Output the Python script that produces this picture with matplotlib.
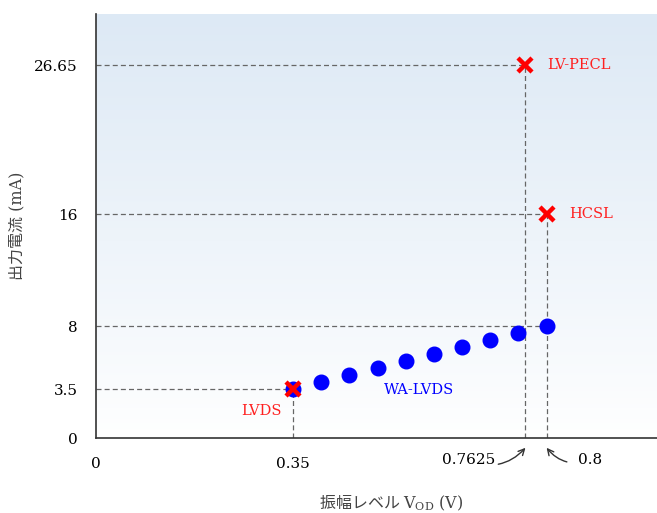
import matplotlib.pyplot as plt
import numpy as np

plt.rcParams['font.family'] = ['DejaVu Serif', 'Noto Sans CJK JP']
plt.rcParams['mathtext.fontset'] = 'dejavuserif'

# WA-LVDS の点列
wa_vod = [0.35, 0.40, 0.45, 0.50, 0.55, 0.60, 0.65, 0.70, 0.75, 0.80]
wa_cur = [3.5, 4.0, 4.5, 5.0, 5.5, 6.0, 6.5, 7.0, 7.5, 8.0]

# 他規格
std_names = ['LVDS', 'LV-PECL', 'HCSL']
std_vod = [0.35, 0.7625, 0.8]
std_cur = [3.5, 26.65, 16]

yticks = [0, 3.5, 8, 16, 26.65]
ytick_labels = ['0', '3.5', '8', '16', '26.65']

fig = plt.figure(figsize=(6.57, 5.13), dpi=100)
ax = fig.add_axes([96/657, 1-438/513, 1-96/657, (438-14)/513])
ax.set_xlim(0, 0.996)
ax.set_ylim(0, 30.3)

# 背景グラデーション
grad = np.linspace(0, 1, 256).reshape(-1, 1)
top = np.array([0.867, 0.914, 0.961])
bot = np.array([1.0, 1.0, 1.0])
img = bot + (top - bot) * grad[::-1] ** 0.9
img = np.repeat(img[:, None, :], 2, axis=1)
ax.imshow(img, extent=[0, 1, 0, 1], transform=ax.transAxes, aspect='auto', zorder=0)

dash = dict(color='#666666', lw=0.9, ls=(0, (4, 2.5)), zorder=1)
ax.plot([0, 0.7625], [26.65, 26.65], **dash)
ax.plot([0.7625, 0.7625], [0, 26.65], **dash)
ax.plot([0, 0.8], [16, 16], **dash)
ax.plot([0.8, 0.8], [0, 16], **dash)
ax.plot([0, 0.8], [8, 8], **dash)
ax.plot([0, 0.35], [3.5, 3.5], **dash)
ax.plot([0.35, 0.35], [0, 3.5], **dash)

ax.plot(wa_vod, wa_cur, 'o', color='#0000ff', ms=10.5, zorder=3, ls='none')
ax.plot(std_vod, std_cur, 'x', color='#ff0000', ms=10, mew=3.2, zorder=4, ls='none')

ax.text(0.7625 + 0.038, 26.65, 'LV-PECL', color='#ff2020', fontsize=10.5, va='center', ha='left')
ax.text(0.8 + 0.04, 16, 'HCSL', color='#ff2020', fontsize=10.5, va='center', ha='left')
ax.text(0.294, 1.9, 'LVDS', color='#ff2020', fontsize=10.5, va='center', ha='center')
ax.text(0.573, 3.45, 'WA-LVDS', color='#0000ff', fontsize=10.5, va='center', ha='center')

for s in ['top', 'right']:
    ax.spines[s].set_visible(False)
for s in ['left', 'bottom']:
    ax.spines[s].set_color('#333333')
    ax.spines[s].set_linewidth(1.2)

ax.set_yticks(yticks)
ax.set_yticklabels(ytick_labels, fontsize=11)
ax.set_xticks([0, 0.35])
ax.set_xticklabels(['0', '0.35'], fontsize=11)
ax.tick_params(length=0, pad=13, axis='y')
ax.tick_params(length=0, pad=14, axis='x')

# 矢印付きラベル
ax.annotate('0.7625', xy=(0.7625, -0.7), xytext=(0.662, -1.6), fontsize=11,
            ha='center', va='center', annotation_clip=False,
            arrowprops=dict(arrowstyle='->', color='#333333', lw=1,
                            connectionstyle='arc3,rad=0.35', shrinkA=24, shrinkB=0))
ax.annotate('0.8', xy=(0.8, -0.7), xytext=(0.877, -1.6), fontsize=11,
            ha='center', va='center', annotation_clip=False,
            arrowprops=dict(arrowstyle='->', color='#333333', lw=1,
                            connectionstyle='arc3,rad=-0.35', shrinkA=6, shrinkB=0))

# 軸ラベル（和文と下付き文字を分けて描く）
ax.text(0.548, -0.155, '振幅レベル ', transform=ax.transAxes, fontsize=11.5,
        color='#444444', ha='right', va='center', family=['Noto Sans CJK JP'])
ax.text(0.548, -0.155, r'$\mathrm{V_{OD}}$ (V)', transform=ax.transAxes, fontsize=11.5,
        color='#444444', ha='left', va='center')
ax.set_ylabel('出力電流 (mA)', fontsize=11.5, color='#444444')
ax.yaxis.set_label_coords(-0.125, 0.5)

fig.savefig('out.png', dpi=100)
